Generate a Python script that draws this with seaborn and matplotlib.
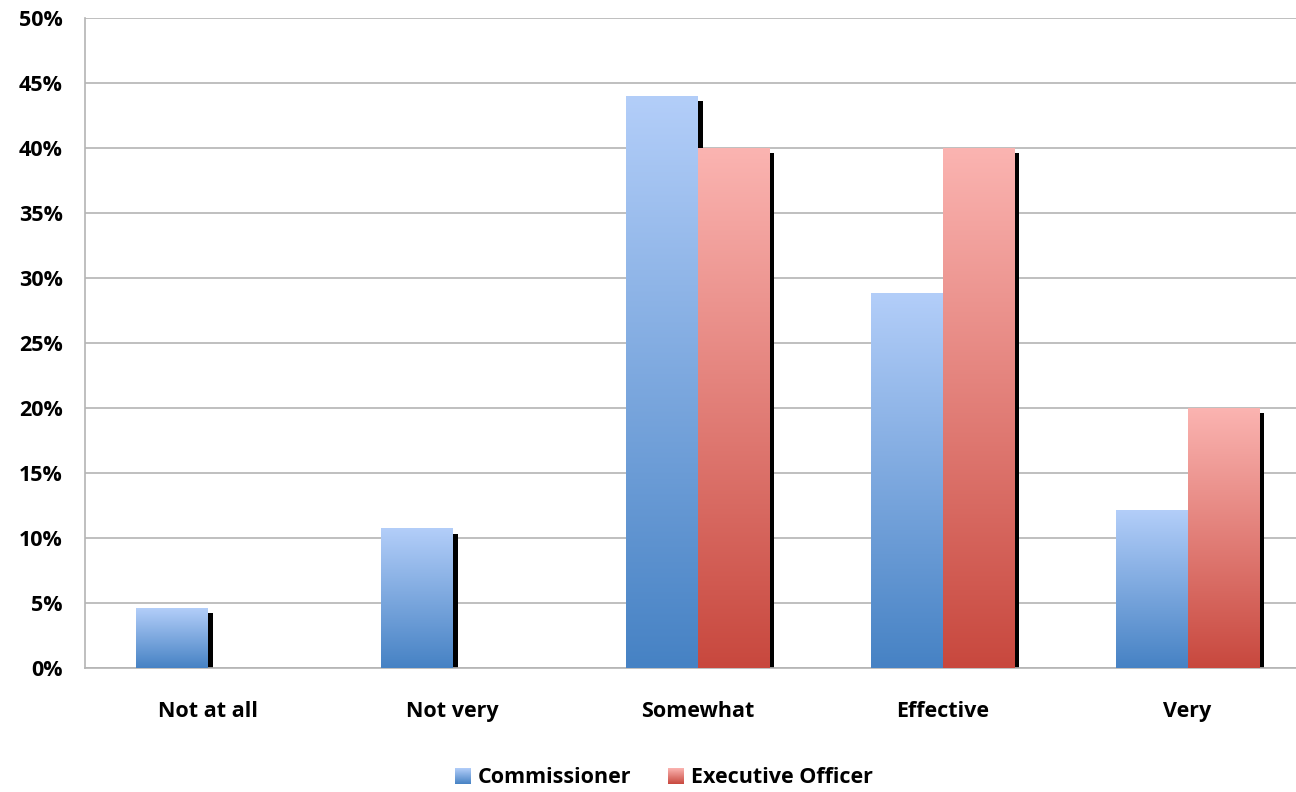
import numpy as np
import pandas as pd
import matplotlib
matplotlib.use('Agg')
import matplotlib.pyplot as plt
import seaborn as sns
from matplotlib.colors import LinearSegmentedColormap
from matplotlib.patches import Rectangle, Patch
from matplotlib.legend_handler import HandlerBase
from matplotlib.image import BboxImage
from matplotlib.transforms import Bbox, TransformedBbox, ScaledTranslation

categories = ['Not at all', 'Not very', 'Somewhat', 'Effective', 'Very']
commissioner = [4.6, 10.7, 44.0, 28.8, 12.1]
exec_officer = [0, 0, 40, 40, 20]
groups = ['Commissioner', 'Executive Officer']
yticks = list(range(0, 55, 5))

blue_cmap = LinearSegmentedColormap.from_list('blue', ['#4682c4', '#b3cef9'])
red_cmap = LinearSegmentedColormap.from_list('red', ['#c8483e', '#fbb4b1'])
cmaps = [blue_cmap, red_cmap]
grad = np.linspace(1, 0, 256).reshape(-1, 1)

df = pd.DataFrame({
    'category': categories * 2,
    'pct': commissioner + exec_officer,
    'group': [groups[0]] * len(categories) + [groups[1]] * len(categories),
})

sns.set_style('white')
plt.rcParams['font.family'] = ['Open Sans', 'DejaVu Sans']
plt.rcParams['font.weight'] = 'bold'
plt.rcParams['text.color'] = 'black'
plt.rcParams['xtick.labelcolor'] = 'black'
plt.rcParams['ytick.labelcolor'] = 'black'
FS = 15.5

fig = plt.figure(figsize=(12.96, 7.92), dpi=100)
ax = fig.add_axes([85 / 1296, 124 / 792, 1225 / 1296, 650 / 792])

sns.barplot(data=df, x='category', y='pct', hue='group', order=categories,
            hue_order=groups, width=0.58, legend=False, ax=ax)

# gradient fill + drop shadow for each bar
shadow_tr = ax.transData + ScaledTranslation(5 / 100, -5 / 100, fig.dpi_scale_trans)
for cont, cmap in zip(ax.containers, cmaps):
    for bar in cont:
        x0, w, h = bar.get_x(), bar.get_width(), bar.get_height()
        bar.set_visible(False)
        if h <= 0:
            continue
        ax.add_patch(Rectangle((x0, 0), w, h, facecolor='black', edgecolor='none',
                               transform=shadow_tr, zorder=2, clip_on=True))
        ax.imshow(grad, extent=[x0, x0 + w, 0, h], aspect='auto', cmap=cmap,
                  vmin=0, vmax=1, zorder=3, interpolation='bicubic')

ax.set_xlim(-0.5, len(categories) - 0.5)
ax.set_ylim(0, 50)
ax.set_yticks(yticks)
ax.set_yticklabels([f'{t}%' for t in yticks])
ax.set_xlabel('')
ax.set_ylabel('')

grid_c = '#b4b4b4'
ax.yaxis.grid(True, color=grid_c, linewidth=1.2, zorder=0)
ax.set_axisbelow(True)
for s in ['top', 'right']:
    ax.spines[s].set_visible(False)
for s in ['left', 'bottom']:
    ax.spines[s].set_color(grid_c)
    ax.spines[s].set_linewidth(1.2)

ax.tick_params(axis='y', length=6, color=grid_c, width=1.2, pad=10, labelsize=FS,
               labelcolor='black')
ax.tick_params(axis='x', which='major', length=0, pad=24, labelsize=FS, labelcolor='black')
ax.set_xticks(np.arange(0.5, len(categories) - 1), minor=True)
ax.tick_params(axis='x', which='minor', length=7, color=grid_c, width=1.2)
for lab in ax.get_xticklabels() + ax.get_yticklabels():
    lab.set_fontweight('bold')


class GradHandler(HandlerBase):
    def __init__(self, cmap):
        super().__init__()
        self.cmap = cmap

    def create_artists(self, legend, orig_handle, xdescent, ydescent, width, height, fontsize, trans):
        bb = Bbox.from_bounds(-xdescent, -ydescent, width, height)
        img = BboxImage(TransformedBbox(bb, trans), cmap=self.cmap, norm=plt.Normalize(0, 1),
                        interpolation='bicubic')
        img.set_data(grad)
        return [img]


handles = [Patch(label=g) for g in groups]
leg = fig.legend(handles=handles, labels=groups, loc='lower center',
                 bbox_to_anchor=(0.512, -0.02), ncol=2, frameon=False,
                 handlelength=0.72, handleheight=0.72, handletextpad=0.35,
                 columnspacing=1.7, prop={'weight': 'bold', 'size': FS},
                 handler_map={handles[0]: GradHandler(blue_cmap),
                              handles[1]: GradHandler(red_cmap)})
for t in leg.get_texts():
    t.set_color('black')

fig.savefig('out.png', dpi=100)
plt.close(fig)
